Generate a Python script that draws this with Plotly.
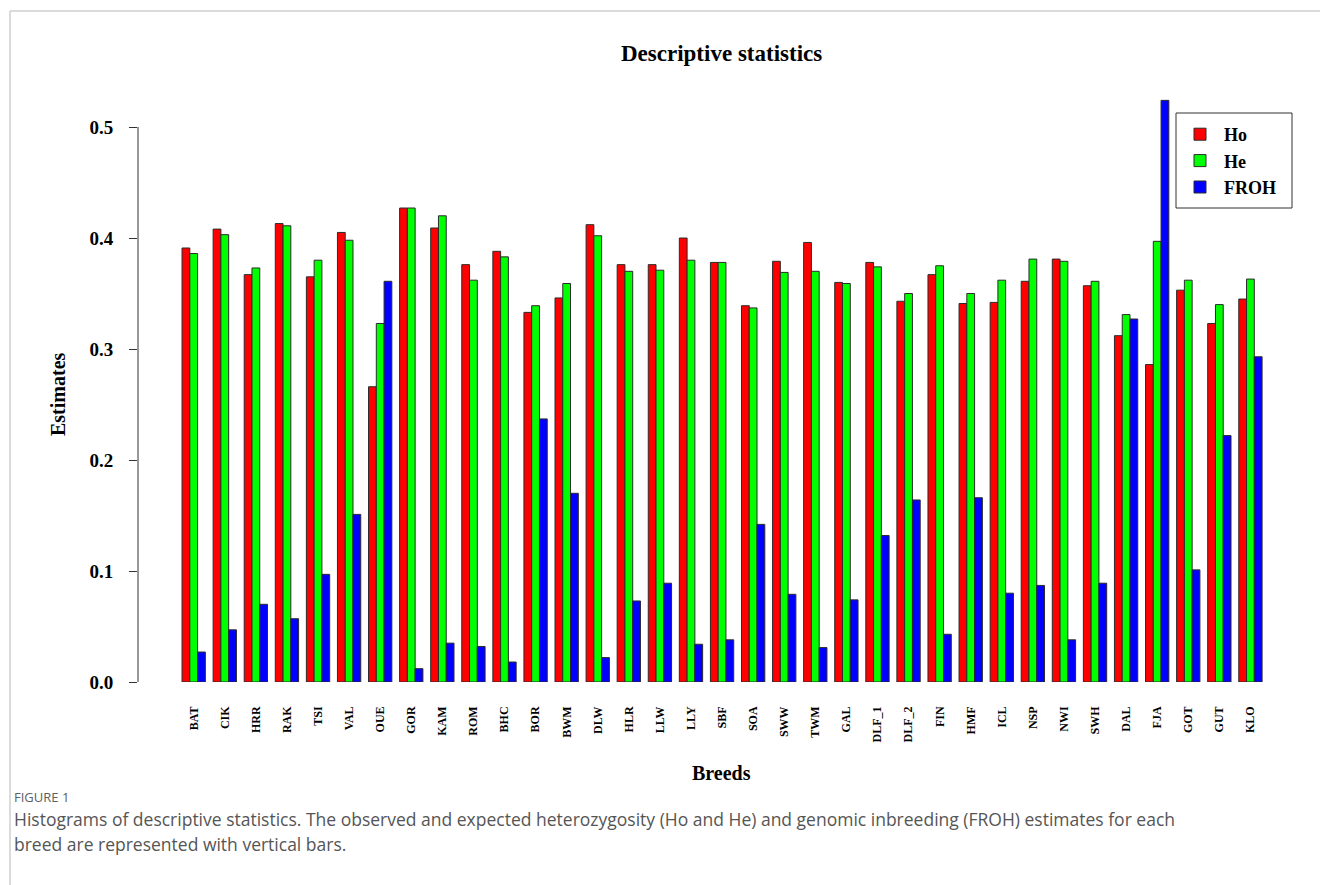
import plotly.graph_objects as go

# Breeds and per-breed estimates
breeds = ["BAT", "CIK", "HRR", "RAK", "TSI", "VAL", "OUE", "GOR", "KAM", "ROM",
          "BHC", "BOR", "BWM", "DLW", "HLR", "LLW", "LLY", "SBF", "SOA", "SWW",
          "TWM", "GAL", "DLF_1", "DLF_2", "FIN", "HMF", "ICL", "NSP", "NWI", "SWH",
          "DAL", "FJA", "GOT", "GUT", "KLO"]

ho = [0.391, 0.408, 0.367, 0.413, 0.365, 0.405, 0.266, 0.427, 0.409, 0.376,
      0.388, 0.333, 0.346, 0.412, 0.376, 0.376, 0.400, 0.378, 0.339, 0.379,
      0.396, 0.360, 0.378, 0.343, 0.367, 0.341, 0.342, 0.361, 0.381, 0.357,
      0.312, 0.286, 0.353, 0.323, 0.345]
he = [0.386, 0.403, 0.373, 0.411, 0.380, 0.398, 0.323, 0.427, 0.420, 0.362,
      0.383, 0.339, 0.359, 0.402, 0.370, 0.371, 0.380, 0.378, 0.337, 0.369,
      0.370, 0.359, 0.374, 0.350, 0.375, 0.350, 0.362, 0.381, 0.379, 0.361,
      0.331, 0.397, 0.362, 0.340, 0.363]
froh = [0.027, 0.047, 0.070, 0.057, 0.097, 0.151, 0.361, 0.012, 0.035, 0.032,
        0.018, 0.237, 0.170, 0.022, 0.073, 0.089, 0.034, 0.038, 0.142, 0.079,
        0.031, 0.074, 0.132, 0.164, 0.043, 0.166, 0.080, 0.087, 0.038, 0.089,
        0.327, 0.524, 0.101, 0.222, 0.293]

y_ticks = [0.0, 0.1, 0.2, 0.3, 0.4, 0.5]
y_ticktext = ["0.0", "0.1", "0.2", "0.3", "0.4", "0.5"]

# Page geometry (pixels)
W, H = 1320, 885
PL, PR, PT, PB = 138, 1300, 94, 682
FIRST_CENTER, STEP = 193.7, 31.08   # group centre of first breed, spacing between groups


def px(x):
    return (x - PL) / (PR - PL)


def py(y):
    return (PB - y) / (PB - PT)


SERIF = "Liberation Serif, Times New Roman, serif"
EDGE = "#2b2b2b"

fig = go.Figure()
for name, vals, col in [("Ho", ho, "#FF0000"), ("He", he, "#00FF00"), ("FROH", froh, "#0000FF")]:
    fig.add_trace(go.Bar(
        x=breeds, y=vals, name=name,
        marker=dict(color=col, line=dict(color=EDGE, width=1)),
    ))

fig.update_layout(
    width=W, height=H,
    margin=dict(l=PL, r=W - PR, t=PT, b=H - PB, pad=0),
    paper_bgcolor="white", plot_bgcolor="white",
    barmode="group", bargap=0.25, bargroupgap=0,
    showlegend=True,
    legend=dict(
        x=px(1176), y=py(116), xanchor="left", yanchor="top",
        bgcolor="rgba(0,0,0,0)", borderwidth=0,
        font=dict(family=SERIF, size=18, color="black", weight="bold"),
        itemwidth=38, tracegroupgap=0,
    ),
    xaxis=dict(
        type="category", categoryorder="array", categoryarray=breeds,
        range=[(PL - FIRST_CENTER) / STEP, (PR - FIRST_CENTER) / STEP],
        showgrid=False, zeroline=False, showline=False, ticks="",
        tickangle=-90, ticklabelstandoff=21,
        tickfont=dict(family=SERIF, size=12, color="black", weight="bold"),
    ),
    yaxis=dict(
        range=[0, (PB - PT) / 1110.0],
        showgrid=False, zeroline=False, showline=False,
        tickmode="array", tickvals=y_ticks, ticktext=y_ticktext,
        ticks="outside", ticklen=8, tickcolor="#333", tickwidth=1,
        ticklabelstandoff=12,
        tickfont=dict(family=SERIF, size=19, color="black", weight="bold"),
    ),
)

# y axis line spanning only the labelled range
fig.add_shape(type="line", xref="paper", yref="y", x0=0, x1=0, y0=0, y1=0.5,
              line=dict(color="#333", width=1))

# legend frame
fig.add_shape(type="rect", xref="paper", yref="paper", layer="above",
              x0=px(1176), x1=px(1292), y0=py(113), y1=py(208),
              fillcolor="white", line=dict(color="#333", width=1))

# card border
fig.add_shape(type="line", xref="paper", yref="paper", x0=px(10), x1=px(1320),
              y0=py(11), y1=py(11), line=dict(color="#cfcfcf", width=1.5))
fig.add_shape(type="line", xref="paper", yref="paper", x0=px(10), x1=px(10),
              y0=py(11), y1=py(885), line=dict(color="#cfcfcf", width=1.5))

ann = []
ann.append(dict(text="<b>Descriptive statistics</b>", x=px(721), y=py(53),
                font=dict(family=SERIF, size=23, color="black")))
ann.append(dict(text="<b>Estimates</b>", x=px(58), y=py(394), textangle=-90,
                font=dict(family=SERIF, size=20, color="black")))
ann.append(dict(text="<b>Breeds</b>", x=px(721), y=py(773),
                font=dict(family=SERIF, size=20, color="black")))
ann.append(dict(text="FIGURE 1", x=px(12), y=py(797), xanchor="left",
                font=dict(family="Open Sans, sans-serif", size=13, color="#606060")))
ann.append(dict(text="Histograms of descriptive statistics. The observed and expected heterozygosity (Ho and He) "
                     "and genomic inbreeding (FROH) estimates for each",
                x=px(12), y=py(819), xanchor="left",
                font=dict(family="Open Sans, sans-serif", size=17.5, color="#555555")))
ann.append(dict(text="breed are represented with vertical bars.",
                x=px(12), y=py(844), xanchor="left",
                font=dict(family="Open Sans, sans-serif", size=17.5, color="#555555")))
for a in ann:
    a.setdefault("xanchor", "center")
    a.update(xref="paper", yref="paper", yanchor="middle", showarrow=False)
fig.update_layout(annotations=ann)

fig.write_html("out.html")
